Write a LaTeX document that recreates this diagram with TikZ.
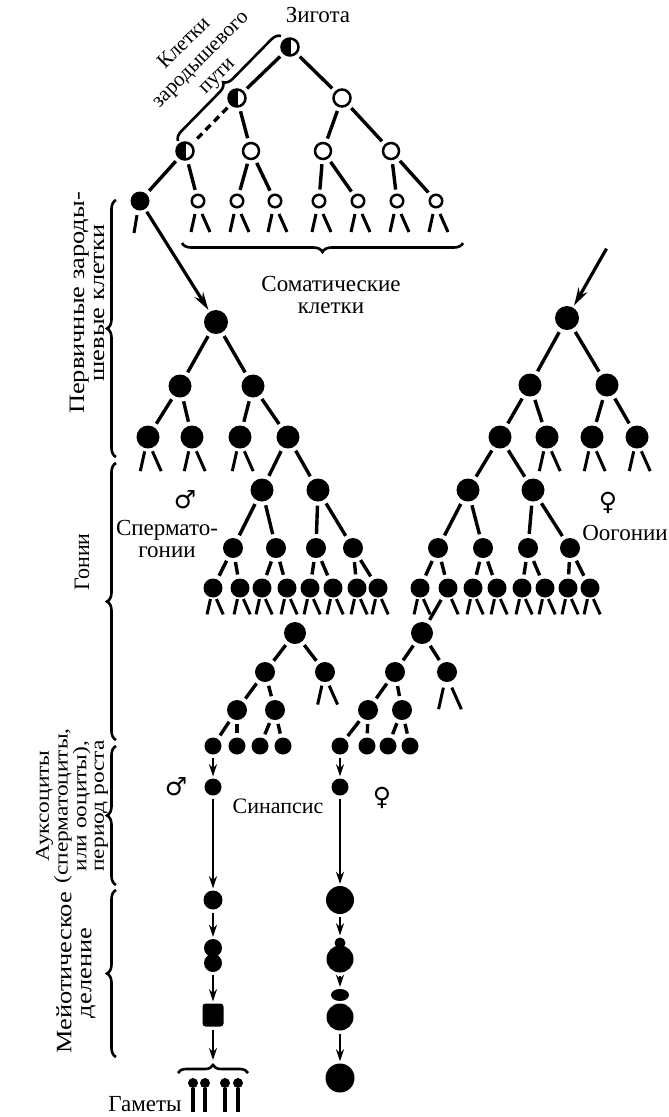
\documentclass[tikz,border=0pt]{standalone}
\usepackage{fontspec}
\setmainfont{Liberation Serif}
\newfontfamily\widefont[FakeStretch=1.2]{Liberation Serif}
\newfontfamily\symfont{DejaVu Sans}
\usetikzlibrary{arrows.meta,decorations.pathreplacing,calc,shapes.geometric}
\newcommand\celllegs[2][1]{%
  \draw[leg] ($(#2)+(-3*#1,13*#1)$) -- ++(-4*#1,18*#1);
  \draw[leg] ($(#2)+(4*#1,13*#1)$) -- ++(8*#1,18*#1);}
\begin{document}
\begin{tikzpicture}[x=1pt,y=-1pt,
  fc/.style={circle,fill=black,inner sep=0pt,minimum size=#1},
  oc/.style={circle,draw=black,line width=2.5pt,fill=white,inner sep=0pt,minimum size=#1},
  hc/.style={oc=#1,path picture={\fill[black] (path picture bounding box.south west) rectangle ([xshift=1pt]path picture bounding box.north);}},
  edge/.style={line width=3.4pt,shorten <=4pt,shorten >=4pt},
  leg/.style={line width=3pt},
  arr/.style={line width=2.6pt,-{Stealth[length=12pt,width=8pt]},shorten <=3pt,shorten >=2pt},
  bigarr/.style={line width=3.2pt,-{Stealth[length=18pt,width=10pt]},shorten <=3pt,shorten >=2pt},
  brc/.style={decorate,decoration={brace,amplitude=#1},line width=2.6pt},
  brc/.default=9pt,
  lbl/.style={font=\fontsize{23}{22}\selectfont,inner sep=0pt},
  rlbl/.style={font=\widefont\fontsize{22}{20}\selectfont,inner sep=0pt},
  sym/.style={font=\symfont\bfseries\fontsize{25}{25}\selectfont,inner sep=0pt},
]
\useasboundingbox (0,0) rectangle (669,1117);

% ---------- top tree ----------
\node[hc=17pt] (zyg) at (290,47) {};
\node[hc=17pt] (g2) at (237,98) {};
\node[oc=17pt] (s2) at (342,98) {};
\node[hc=17pt] (g3) at (185,151) {};
\node[oc=16pt] (s3a) at (251,151) {};
\node[oc=16pt] (s3b) at (323,151) {};
\node[oc=16pt] (s3c) at (391,151) {};
\node[fc=19pt] (pgc) at (140,201) {};
\foreach \n/\x in {o1/198,o2/237,o3/275,o4/319,o5/358,o6/397,o7/436}
  \node[oc=12.5pt] (\n) at (\x,201) {};

\draw[edge] (zyg) -- (g2);
\draw[edge] (zyg) -- (s2);
\draw[edge,dash pattern=on 7pt off 5pt] (g2) -- (g3);
\draw[edge] (g2) -- (s3a);
\draw[edge] (s2) -- (s3b);
\draw[edge] (s2) -- (s3c);
\draw[edge] (g3) -- (pgc);
\draw[edge] (g3) -- (o1);
\draw[edge] (s3a) -- (o2);
\draw[edge] (s3a) -- (o3);
\draw[edge] (s3b) -- (o4);
\draw[edge] (s3b) -- (o5);
\draw[edge] (s3c) -- (o6);
\draw[edge] (s3c) -- (o7);
\foreach \n in {o1,o2,o3,o4,o5,o6,o7} {\celllegs{\n}}
\draw[leg] ($(pgc)+(-3,14)$) -- ++(-3,18);

\node[lbl] (zlab) at (318,15) {Зигота};
\node[font=\fontsize{21}{23}\selectfont,inner sep=0pt,rotate=45,align=center] (kzp) at (201,60) {Клетки\\зародышевого\\пути};
\draw[brc] (178,141) -- (281,36);

\draw[brc] (463,243) -- (182,243);
\node[lbl,align=center] (som) at (331,295) {Соматические\\клетки};

% ---------- male primordial / gonia ----------
\node[fc=24pt] (M1) at (216,322) {};
\node[fc=23pt] (M2a) at (180,386) {};
\node[fc=23pt] (M2b) at (253,386) {};
\node[fc=23pt] (M3a) at (148,437) {};
\node[fc=23pt] (M3b) at (192,437) {};
\node[fc=23pt] (M3c) at (240,437) {};
\node[fc=23pt] (M3d) at (288,437) {};
\node[fc=23pt] (M4a) at (262,490) {};
\node[fc=23pt] (M4b) at (318,490) {};
\node[fc=20pt] (M5a) at (233,548) {};
\node[fc=20pt] (M5b) at (276,548) {};
\node[fc=20pt] (M5c) at (316,548) {};
\node[fc=20pt] (M5d) at (353,548) {};
\foreach \n/\x in {a/213,b/240,c/262,d/287,e/310,f/333,g/357,h/378}
  \node[fc=19pt] (M6\n) at (\x,588) {};

\draw[bigarr] (pgc) -- (M1);
\draw[edge] (M1) -- (M2a);
\draw[edge] (M1) -- (M2b);
\draw[edge] (M2a) -- (M3a);
\draw[edge] (M2a) -- (M3b);
\draw[edge] (M2b) -- (M3c);
\draw[edge] (M2b) -- (M3d);
\draw[edge] (M3d) -- (M4a);
\draw[edge] (M3d) -- (M4b);
\draw[edge] (M4a) -- (M5a);
\draw[edge] (M4a) -- (M5b);
\draw[edge] (M4b) -- (M5c);
\draw[edge] (M4b) -- (M5d);
\draw[edge] (M5a) -- (M6a);
\draw[edge] (M5a) -- (M6b);
\draw[edge] (M5b) -- (M6c);
\draw[edge] (M5b) -- (M6d);
\draw[edge] (M5c) -- (M6e);
\draw[edge] (M5c) -- (M6f);
\draw[edge] (M5d) -- (M6g);
\draw[edge] (M5d) -- (M6h);
\foreach \n in {M3a,M3b,M3c} {\celllegs[1.1]{\n}}
\foreach \n in {M6a,M6b,M6c,M6d,M6e,M6f,M6g,M6h} {\celllegs[0.85]{\n}}

% ---------- female primordial / gonia ----------
\coordinate (fin) at (608,246);
\node[fc=24pt] (F1) at (567,318) {};
\node[fc=23pt] (F2a) at (530,385) {};
\node[fc=23pt] (F2b) at (607,385) {};
\node[fc=23pt] (F3a) at (500,437) {};
\node[fc=23pt] (F3b) at (547,437) {};
\node[fc=23pt] (F3c) at (592,437) {};
\node[fc=23pt] (F3d) at (637,437) {};
\node[fc=23pt] (F4a) at (468,490) {};
\node[fc=23pt] (F4b) at (533,490) {};
\node[fc=20pt] (F5a) at (438,548) {};
\node[fc=20pt] (F5b) at (483,548) {};
\node[fc=20pt] (F5c) at (528,548) {};
\node[fc=20pt] (F5d) at (570,548) {};
\foreach \n/\x in {a/420,b/448,c/473,d/497,e/522,f/545,g/568,h/590}
  \node[fc=19pt] (F6\n) at (\x,588) {};

\draw[bigarr] (fin) -- (F1);
\draw[edge] (F1) -- (F2a);
\draw[edge] (F1) -- (F2b);
\draw[edge] (F2a) -- (F3a);
\draw[edge] (F2a) -- (F3b);
\draw[edge] (F2b) -- (F3c);
\draw[edge] (F2b) -- (F3d);
\draw[edge] (F3a) -- (F4a);
\draw[edge] (F3a) -- (F4b);
\draw[edge] (F4a) -- (F5a);
\draw[edge] (F4a) -- (F5b);
\draw[edge] (F4b) -- (F5c);
\draw[edge] (F4b) -- (F5d);
\draw[edge] (F5a) -- (F6a);
\draw[edge] (F5a) -- (F6b);
\draw[edge] (F5b) -- (F6c);
\draw[edge] (F5b) -- (F6d);
\draw[edge] (F5c) -- (F6e);
\draw[edge] (F5c) -- (F6f);
\draw[edge] (F5d) -- (F6g);
\draw[edge] (F5d) -- (F6h);
\foreach \n in {F3b,F3c,F3d} {\celllegs[1.1]{\n}}
\foreach \n in {F6a,F6c,F6d,F6e,F6f,F6g,F6h} {\celllegs[0.85]{\n}}
\draw[leg] ($(F6b)+(3.4,11)$) -- ++(6.8,15.3);

% ---------- lower trees ----------
\node[fc=22pt] (LM1) at (295,633) {};
\node[fc=20pt] (LM2a) at (265,672) {};
\node[fc=20pt] (LM2b) at (325,672) {};
\node[fc=20pt] (LM3a) at (237,710) {};
\node[fc=20pt] (LM3b) at (275,710) {};
\foreach \n/\x in {a/213,b/237,c/260,d/283}
  \node[fc=17pt] (LM4\n) at (\x,746) {};
\draw[edge] (LM1) -- (LM2a);
\draw[edge] (LM1) -- (LM2b);
\draw[edge] (LM2a) -- (LM3a);
\draw[edge] (LM2a) -- (LM3b);
\draw[edge] (LM3a) -- (LM4a);
\draw[edge] (LM3a) -- (LM4b);
\draw[edge] (LM3b) -- (LM4c);
\draw[edge] (LM3b) -- (LM4d);
\celllegs[1.05]{LM2b}

\node[fc=22pt] (LF1) at (422,633) {};
\node[fc=20pt] (LF2a) at (395,672) {};
\node[fc=20pt] (LF2b) at (447,672) {};
\node[fc=20pt] (LF3a) at (368,710) {};
\node[fc=20pt] (LF3b) at (402,710) {};
\foreach \n/\x in {a/340,b/367,c/388,d/410}
  \node[fc=17pt] (LF4\n) at (\x,746) {};
\draw[edge] (F6b) -- (LF1);
\draw[edge] (LF1) -- (LF2a);
\draw[edge] (LF1) -- (LF2b);
\draw[edge] (LF2a) -- (LF3a);
\draw[edge] (LF2a) -- (LF3b);
\draw[edge] (LF3a) -- (LF4a);
\draw[edge] (LF3a) -- (LF4b);
\draw[edge] (LF3b) -- (LF4c);
\draw[edge] (LF3b) -- (LF4d);
\celllegs[1.2]{LF2b}

% ---------- male meiosis ----------
\node[fc=17pt] (mA) at (213,787) {};
\node[fc=19pt] (mB) at (213,900) {};
\node[fc=18pt] (mC1) at (213,948) {};
\node[fc=18pt] (mC2) at (213,963) {};
\node[fill=black,rounded corners=3pt,minimum width=21pt,minimum height=23pt,inner sep=0pt] (mD) at (213,1015) {};
\coordinate (gtip) at (213,1062);
\draw[arr] (LM4a) -- (mA);
\draw[arr] (mA) -- (mB);
\draw[arr] (mB) -- (mC1);
\draw[arr] (mC2) -- (mD);
\draw[arr] (mD) -- (gtip);
\draw[brc=8pt] (178,1073) -- (248,1073);
\foreach \n/\x in {a/193,b/205,c/225,d/238} {
  \node[fc=10pt] (sp\n) at (\x,1083) {};
  \coordinate (st\n) at (\x,1112);
  \draw[line width=3.4pt] (sp\n) -- (st\n);
}
\node[lbl] (gam) at (145,1104) {Гаметы};

% ---------- female meiosis ----------
\node[fc=17pt] (fA) at (340,787) {};
\node[fc=28pt] (fB) at (340,900) {};
\node[fc=11pt] (pb1) at (340,943) {};
\node[fc=27pt] (fC) at (340,959) {};
\node[ellipse,fill=black,inner sep=0pt,minimum width=18pt,minimum height=12pt] (pb2) at (340,995) {};
\node[fc=27pt] (fD) at (340,1017) {};
\node[fc=29pt] (fE) at (340,1078) {};
\draw[arr] (LF4a) -- (fA);
\draw[arr] (fA) -- (fB);
\draw[arr] (fB) -- (pb1);
\draw[arr] (fC) -- (pb2);
\draw[arr] (fD) -- (fE);

% ---------- labels ----------
\node[sym] (male1) at (185,500) {♂};
\node[lbl,align=center] (sperm) at (167,539) {Спермато-\\гонии};
\node[sym] (fem1) at (608,503) {♀};
\node[lbl] (oog) at (625,533) {Оогонии};
\node[sym] (male2) at (176,787) {♂};
\node[sym] (fem2) at (382,798) {♀};
\node[font=\fontsize{22}{22}\selectfont,inner sep=0pt] (syn) at (278,806) {Синапсис};

\draw[brc] (116,457) -- (116,200);
\draw[brc] (116,740) -- (116,463);
\draw[brc] (116,885) -- (116,746);
\draw[brc] (116,1057) -- (116,890);
\node[rlbl,rotate=90,align=center] (l1) at (87,303) {Первичные зароды-\\шевые клетки};
\node[font=\fontsize{22}{22}\selectfont,inner sep=0pt,rotate=90] (l2) at (82,562) {Гонии};
\node[font=\widefont\fontsize{19.5}{17.5}\selectfont,inner sep=0pt,rotate=90,align=center] (l3) at (72,806) {Ауксоциты\\(сперматоциты,\\или ооциты),\\период роста};
\node[rlbl,rotate=90,align=center] (l4) at (76,973) {Мейотическое\\деление};
\end{tikzpicture}
\end{document}
